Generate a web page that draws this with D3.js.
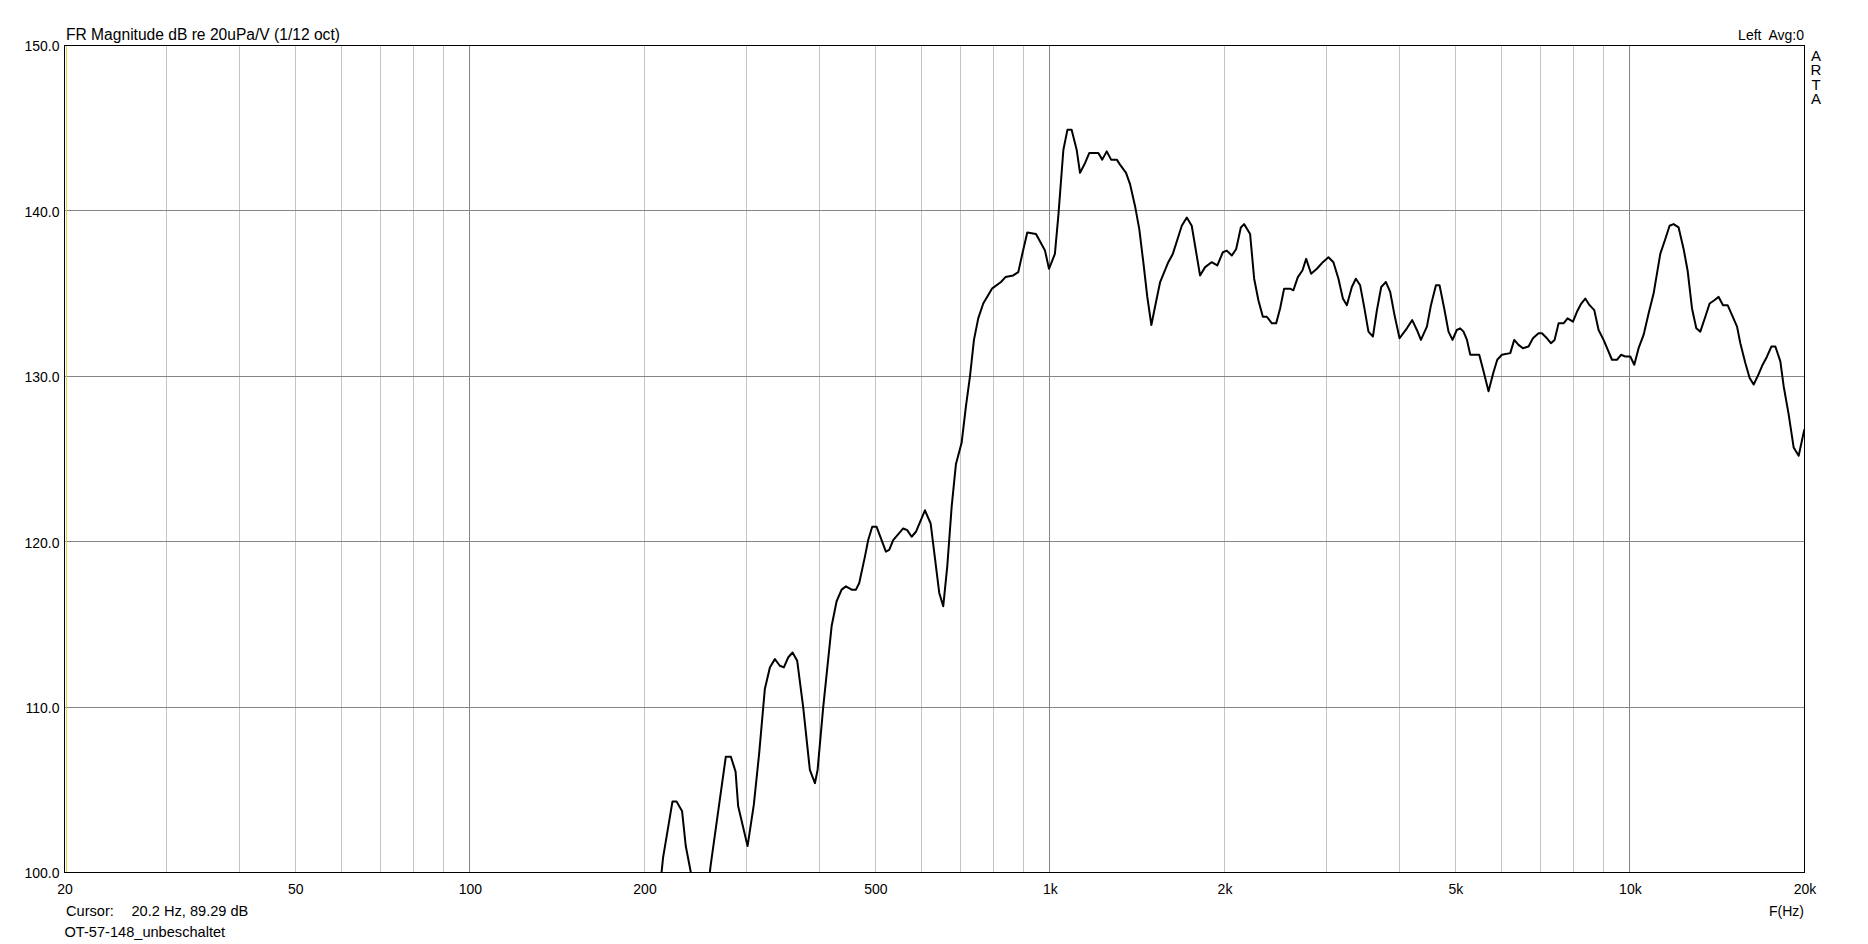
<!DOCTYPE html>
<html>
<head>
<meta charset="utf-8">
<script src="https://cdn.jsdelivr.net/npm/d3@7"></script>
<style>
  body { margin: 0; background: #fff; }
  text { font-family: "Liberation Sans", Arial, sans-serif; fill: #000; }
</style>
</head>
<body>
<div id="chart"></div>
<script>
// Frequency response, 1/12 octave smoothed
const freqs = [200, 214, 215.3, 223.5, 227.1, 232.2, 235.6, 240.4, 248, 259.2, 260, 269.7, 276.2, 281.8, 287.1, 290.1, 301.1, 308.7, 315.3,
  322.5, 329, 335.6, 342.3, 347.8, 353.8, 360, 366.7, 375.5, 385.6, 393.4, 397.6, 406.6, 420.4, 428.8, 437.4, 445, 455.2, 463, 469.1,
  479.8, 486.1, 493.9, 502.6, 521.5, 528.4, 536.8, 558.6, 567.5, 577.6, 587.5, 608.9, 622.9, 644.5, 654.8, 665.3, 677, 688.7, 704.5,
  716.6, 728.1, 739.7, 752.4, 767.5, 794.5, 823.5, 838.3, 864.6, 882, 897.6, 914.1, 946.3, 980.7, 996.4, 1020, 1034, 1055, 1072, 1090,
  1112, 1127, 1150, 1169, 1212, 1231, 1253, 1275, 1304, 1321, 1353, 1375, 1402, 1426, 1449, 1472, 1496, 1522, 1549, 1600, 1629, 1688,
  1722, 1756, 1815, 1852, 1900, 1944, 1987, 2018, 2059, 2095, 2134, 2162, 2214, 2250, 2288, 2329, 2366, 2414, 2455, 2494, 2534, 2595,
  2629, 2676, 2725, 2766, 2821, 2886, 2955, 3022, 3082, 3144, 3200, 3251, 3316, 3369, 3427, 3482, 3542, 3605, 3663, 3726, 3796, 3861,
  3928, 4007, 4126, 4214, 4293, 4362, 4467, 4539, 4630, 4697, 4785, 4867, 4945, 5029, 5099, 5166, 5237, 5306, 5498, 5593, 5705, 5813,
  5906, 6017, 6219, 6318, 6427, 6540, 6687, 6805, 6958, 7053, 7194, 7309, 7415, 7534, 7685, 7808, 7977, 8104, 8244, 8376, 8520, 8681,
  8831, 9008, 9314, 9500, 9652, 9818, 10015, 10175, 10351, 10558, 10770, 10986, 11282, 11509, 11707, 11894, 12133, 12376, 12574, 12796,
  13016, 13225, 13490, 13723, 13981, 14222, 14473, 14740, 15000, 15301, 15502, 15813, 16086, 16344, 16606, 16939, 17238, 17534, 17815,
  18172, 18412, 18781, 19157, 19542, 19934, 20000];
const levels = [95, 100, 100.9, 104.3, 104.3, 103.7, 101.6, 100, 96.5, 100, 100.4, 104.4, 107, 107, 106.1, 104, 101.6, 104.1, 107.2,
  111.1, 112.4, 112.9, 112.5, 112.4, 113, 113.3, 112.8, 110, 106.2, 105.4, 106.2, 110, 114.9, 116.4, 117.1, 117.3, 117.1, 117.1, 117.5,
  119.1, 120.1, 120.9, 120.9, 119.4, 119.5, 120.1, 120.8, 120.7, 120.3, 120.6, 121.9, 121.1, 116.9, 116.1, 118.5, 122.1, 124.7, 126,
  128.2, 130, 132.2, 133.5, 134.4, 135.3, 135.7, 136, 136.1, 136.3, 137.5, 138.7, 138.6, 137.6, 136.5, 137.4, 139.7, 143.7, 144.9, 144.9,
  143.7, 142.3, 142.9, 143.5, 143.5, 143.1, 143.6, 143.1, 143.1, 142.8, 142.3, 141.6, 140.3, 138.9, 136.9, 134.8, 133.1, 134.4, 135.7, 136.9, 137.4, 139.1,
  139.6, 139.1, 136.1, 136.6, 136.9, 136.7, 137.5, 137.6, 137.3, 137.7, 139, 139.2, 138.6, 135.9, 134.6, 133.6, 133.6, 133.2, 133.2, 134.1, 135.3, 135.3,
  135.2, 136, 136.4, 137.1, 136.2, 136.5, 136.9, 137.2, 136.9, 135.9, 134.7, 134.3, 135.4, 135.9, 135.5, 134.2, 132.7, 132.4, 134, 135.4, 135.7, 135.1,
  133.7, 132.3, 132.9, 133.4, 132.8, 132.2, 133, 134.3, 135.5, 135.5, 134.1, 132.7, 132.2, 132.8, 132.9, 132.7, 132.2, 131.3, 131.3, 130.3, 129.1, 130.2,
  131, 131.3, 131.4, 132.2, 131.9, 131.7, 131.8, 132.3, 132.6, 132.6, 132.3, 132, 132.2, 133.2, 133.2, 133.5, 133.3, 133.9, 134.4, 134.7, 134.3, 134,
  132.8, 132.2, 131, 131, 131.3, 131.2, 131.2, 130.7, 131.7, 132.5, 133.8, 135, 137.4, 138.3, 139.1, 139.2, 139, 137.7, 136.4, 134.1,
  132.9, 132.7, 133.6, 134.4, 134.6, 134.8, 134.3, 134.3, 133.7, 133, 132, 130.8, 129.9, 129.5, 130, 130.7, 131.2, 131.8, 131.8,
  130.9, 129.4, 127.7, 125.7, 125.2, 126.6, 126.8];

const yTicks = [100, 110, 120, 130, 140, 150];
const xTickValues = [20, 50, 100, 200, 500, 1000, 2000, 5000, 10000, 20000];
const xTickLabels = ["20", "50", "100", "200", "500", "1k", "2k", "5k", "10k", "20k"];
const minorGrid = [30, 40, 50, 60, 70, 80, 90, 200, 300, 400, 500, 600, 700, 800, 900,
  2000, 3000, 4000, 5000, 6000, 7000, 8000, 9000];
const majorGrid = [100, 1000, 10000];
const cursorFreq = 20.2;

const W = 1868, H = 944;
const plotLeft = 64.5, plotRight = 1804.5, plotTop = 45.5, plotBottom = 872.5;

const svg = d3.select("#chart").append("svg")
    .attr("width", W)
    .attr("height", H);

const x = d3.scaleLog().domain([20, 20000]).range([plotLeft, plotRight]);
const y = d3.scaleLinear().domain([100, 150]).range([plotBottom, plotTop]);

const snap = v => Math.round(v - 0.5) + 0.5;

// grid
svg.append("g").selectAll("line")
    .data(minorGrid).enter().append("line")
    .attr("x1", d => snap(x(d))).attr("x2", d => snap(x(d)))
    .attr("y1", plotTop).attr("y2", plotBottom)
    .attr("stroke", "#c4c4c4").attr("stroke-width", 1);

svg.append("g").selectAll("line")
    .data(majorGrid).enter().append("line")
    .attr("x1", d => snap(x(d))).attr("x2", d => snap(x(d)))
    .attr("y1", plotTop).attr("y2", plotBottom)
    .attr("stroke", "#868686").attr("stroke-width", 1);

svg.append("g").selectAll("line")
    .data(yTicks.slice(1, -1)).enter().append("line")
    .attr("x1", plotLeft).attr("x2", plotRight)
    .attr("y1", d => snap(y(d))).attr("y2", d => snap(y(d)))
    .attr("stroke", "#868686").attr("stroke-width", 1);

// cursor line
svg.append("line")
    .attr("x1", snap(x(cursorFreq)) - 1).attr("x2", snap(x(cursorFreq)) - 1)
    .attr("y1", plotTop).attr("y2", plotBottom)
    .attr("stroke", "#e2d34e").attr("stroke-width", 1);

// curve
svg.append("clipPath").attr("id", "plot")
    .append("rect")
    .attr("x", plotLeft).attr("y", plotTop)
    .attr("width", plotRight - plotLeft).attr("height", plotBottom - plotTop);

const data = freqs.map((f, i) => ({ f: f, db: levels[i] }));
const line = d3.line().x(d => x(d.f)).y(d => y(d.db));

svg.append("path")
    .datum(data)
    .attr("clip-path", "url(#plot)")
    .attr("fill", "none")
    .attr("stroke", "#000")
    .attr("stroke-width", 2)
    .attr("stroke-linejoin", "round")
    .attr("d", line);

// frame
svg.append("rect")
    .attr("x", plotLeft).attr("y", plotTop)
    .attr("width", plotRight - plotLeft).attr("height", plotBottom - plotTop)
    .attr("fill", "none").attr("stroke", "#000").attr("stroke-width", 1);

// axes (labels only)
const yAxis = svg.append("g")
    .attr("transform", "translate(" + plotLeft + ",0)")
    .call(d3.axisLeft(y).tickValues(yTicks).tickFormat(d3.format(".1f")).tickSize(0).tickPadding(5));
yAxis.select(".domain").remove();
yAxis.selectAll("text").attr("font-size", 14).attr("dy", "0.38em")
    .style("font-family", "'Liberation Sans', Arial, sans-serif");

const xAxis = svg.append("g")
    .attr("transform", "translate(0," + plotBottom + ")")
    .call(d3.axisBottom(x).tickValues(xTickValues)
        .tickFormat((d, i) => xTickLabels[i]).tickSize(0).tickPadding(11.5));
xAxis.select(".domain").remove();
xAxis.selectAll("text").attr("font-size", 14)
    .style("font-family", "'Liberation Sans', Arial, sans-serif");

// texts
svg.append("text").attr("x", 66).attr("y", 40).attr("font-size", 15.6)
    .text("FR Magnitude dB re 20uPa/V (1/12 oct)");

svg.append("text").attr("x", 1804).attr("y", 39.5).attr("font-size", 14)
    .attr("text-anchor", "end").style("white-space", "pre")
    .text("Left  Avg:0");

// stacked "ARTA" logo, one upright vertical text
svg.append("text")
    .attr("x", 1816).attr("y", 47)
    .attr("font-size", 15)
    .style("writing-mode", "vertical-rl")
    .style("text-orientation", "upright")
    .style("letter-spacing", "-2.6px")
    .text("ARTA");

svg.append("text").attr("x", 1804).attr("y", 915.5).attr("font-size", 14)
    .attr("text-anchor", "end").text("F(Hz)");

svg.append("text").attr("x", 66).attr("y", 916).attr("font-size", 14.6)
    .text("Cursor:");
svg.append("text").attr("x", 131.5).attr("y", 916).attr("font-size", 14.6)
    .text("20.2 Hz, 89.29 dB");

svg.append("text").attr("x", 64.5).attr("y", 936.5).attr("font-size", 14.6)
    .text("OT-57-148_unbeschaltet");
</script>
</body>
</html>
